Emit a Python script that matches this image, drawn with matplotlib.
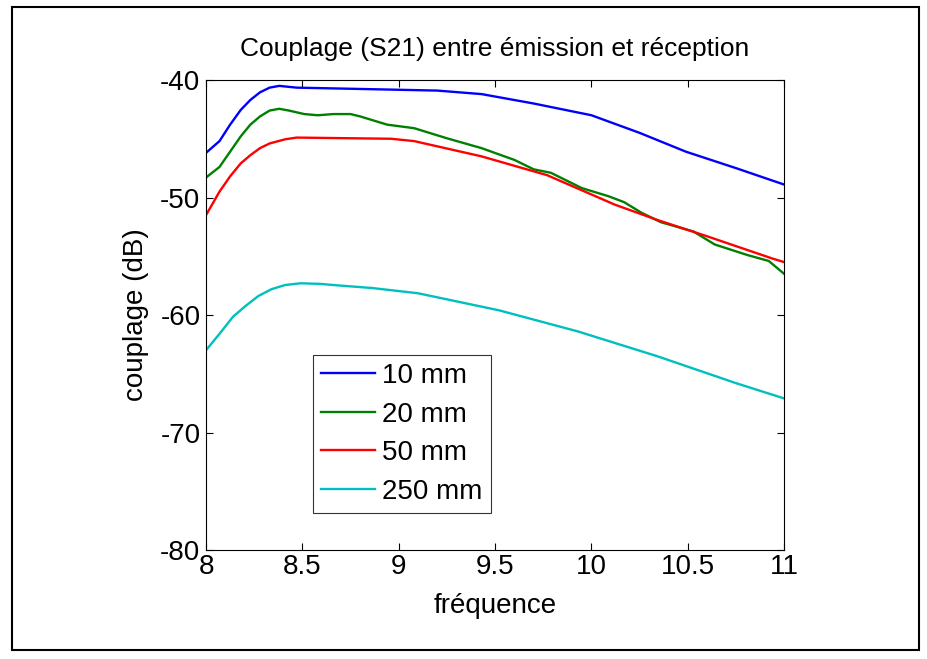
import numpy as np
import matplotlib
matplotlib.use("Agg")
import matplotlib.pyplot as plt
from matplotlib.patches import Rectangle

plt.rcParams['font.family'] = ['Liberation Sans', 'DejaVu Sans']
plt.rcParams['axes.unicode_minus'] = False

# 10 mm
f10 = [8.0, 8.07, 8.125, 8.18, 8.23, 8.28, 8.33, 8.38, 8.47, 8.91, 9.2, 9.43, 9.7, 10.0, 10.25, 10.49, 10.75, 11.0]
s10 = [-46.2, -45.2, -43.8, -42.55, -41.7, -41.05, -40.65, -40.5, -40.65, -40.8, -40.9, -41.2, -42.0, -43.0,
       -44.5, -46.1, -47.5, -48.9]
# 20 mm
f20 = [8.0, 8.07, 8.125, 8.18, 8.23, 8.28, 8.33, 8.38, 8.43, 8.51, 8.58, 8.66, 8.75, 8.8, 8.94, 9.08, 9.25,
       9.43, 9.6, 9.7, 9.79, 9.95, 10.09, 10.17, 10.26, 10.36, 10.53, 10.64, 10.81, 10.92, 11.0]
s20 = [-48.3, -47.4, -46.1, -44.8, -43.8, -43.1, -42.6, -42.45, -42.6, -42.9, -43.0, -42.9, -42.9, -43.1,
       -43.8, -44.1, -44.96, -45.8, -46.8, -47.6, -47.9, -49.2, -49.9, -50.4, -51.3, -52.1, -52.9, -54.0,
       -54.9, -55.4, -56.5]
# 50 mm
f50 = [8.0, 8.07, 8.125, 8.18, 8.23, 8.28, 8.33, 8.41, 8.47, 8.96, 9.08, 9.43, 9.77, 10.12, 10.34, 10.6,
       10.94, 11.0]
s50 = [-51.5, -49.5, -48.2, -47.1, -46.4, -45.8, -45.4, -45.05, -44.9, -45.0, -45.2, -46.5, -48.1, -50.6,
       -51.9, -53.3, -55.2, -55.5]
# 250 mm
f250 = [8.0, 8.07, 8.14, 8.2, 8.27, 8.34, 8.41, 8.49, 8.59, 8.7, 8.86, 9.1, 9.52, 9.93, 10.34, 10.75, 11.0]
s250 = [-63.0, -61.6, -60.15, -59.3, -58.4, -57.8, -57.45, -57.3, -57.35, -57.5, -57.7, -58.15, -59.6,
        -61.4, -63.5, -65.8, -67.1]

labels = ['10 mm', '20 mm', '50 mm', '250 mm']
colors = ['#0000ff', '#008000', '#ff0000', '#00bfbf']

fig = plt.figure(figsize=(9.28, 6.59), dpi=100)
ax = fig.add_axes([0.222, 0.1654, 0.623, 0.7132])

for fx, sy, lab, c in zip([f10, f20, f50, f250], [s10, s20, s50, s250], labels, colors):
    ax.plot(fx, sy, color=c, linewidth=1.7, label=lab)

ax.set_xlim(8, 11)
ax.set_ylim(-80, -40)
ax.set_xticks(np.arange(8, 11.01, 0.5))
ax.set_xticklabels(['8', '8.5', '9', '9.5', '10', '10.5', '11'])
ax.set_yticks([-80, -70, -60, -50, -40])
ax.tick_params(direction='in', top=True, right=True, labelsize=20, length=5, width=0.8)
ax.tick_params(axis='x', pad=3)
ax.tick_params(axis='y', pad=4)
for sp in ax.spines.values():
    sp.set_linewidth(0.8)

ax.set_title('Couplage (S21) entre émission et réception', fontsize=19, pad=17)
ax.set_xlabel('fréquence', fontsize=20, labelpad=9)
ax.set_ylabel('couplage (dB)', fontsize=20, labelpad=8)

leg = ax.legend(loc='lower left', bbox_to_anchor=(0.185, 0.079), borderaxespad=0, fontsize=20,
                frameon=True, fancybox=False, edgecolor='black', handlelength=1.95,
                borderpad=0.3, labelspacing=0.45, handletextpad=0.25)
leg.get_frame().set_linewidth(0.8)

fig.patches.append(Rectangle((12 / 928, 1 - 650 / 659), 907 / 928, 643 / 659,
                             transform=fig.transFigure, fill=False,
                             edgecolor='black', linewidth=1.5))

fig.savefig('out.png', dpi=100)
